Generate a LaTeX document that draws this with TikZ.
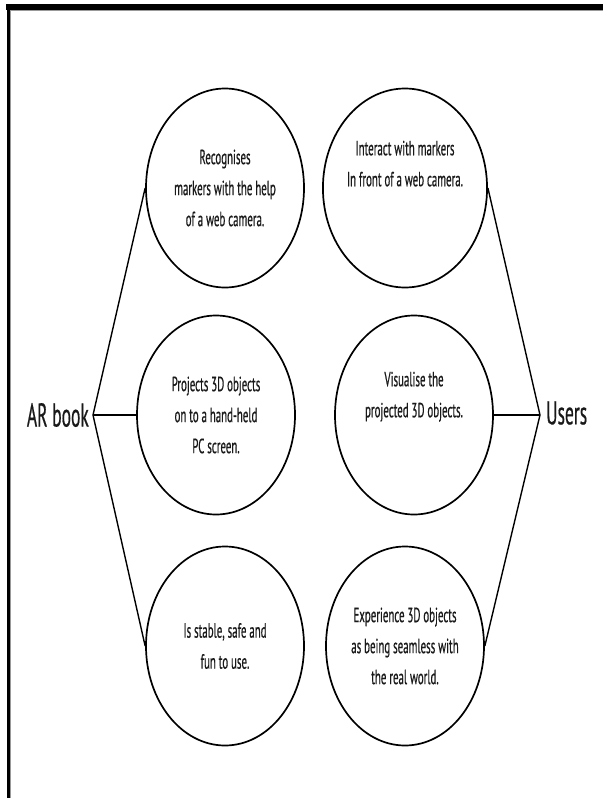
\documentclass[tikz,border=0pt]{standalone}
\usepackage{fontspec}
\setmainfont{PT Sans}
\newfontfamily\cfont[FakeStretch=0.53,FakeBold=0.5]{PT Sans}
\usetikzlibrary{shapes.geometric}
\begin{document}
\begin{tikzpicture}[x=1pt,y=-1pt,
  bubble/.style={draw=black, line width=1.7pt, ellipse, inner sep=0pt,
    minimum width=158pt, minimum height=199pt, align=center,
    text=black!90, font=\cfont\fontsize{20.5}{31}\selectfont},
  bigtext/.style={inner sep=0pt, text=black!90, font=\cfont\fontsize{33}{33}\selectfont},
  spoke/.style={draw=black, line width=1.4pt},
  hub/.style={draw=black, line width=2.8pt}]
\useasboundingbox (0,0) rectangle (603,798);
% frame
\fill[black] (6,4) rectangle (603,10);
\fill[black] (7,4) rectangle (10,798);
\fill[black!40] (10,10) rectangle (11,798);
\fill[black!40] (10,10) rectangle (603,11);
% bubbles
\node[bubble] (tl) at (225,188) {Recognises\\markers with the help\\of a web camera.};
\node[bubble] (ml) at (216,415) {Projects 3D objects\\on to a hand-held\\PC screen.};
\node[bubble] (bl) at (225,646) {Is stable, safe and\\fun to use.};
\node[bubble] (tr) at (405,188) {Interact with markers\\In front of a web camera.\\[18pt]};
\node[bubble] (mr) at (414,415) {Visualise the\\projected 3D objects.\\[10pt]};
\node[bubble] (br) at (405,646) {Experience 3D objects\\as being seamless with\\the real world.};
% hubs
\node[bigtext, anchor=east] (ar) at (89,415) {AR book};
\node[bigtext, anchor=west] (us) at (546,413) {Users};
\coordinate (arv) at (93,415);
\coordinate (usv) at (540,415);
% connectors
\draw[spoke] (tl.west) -- (arv) -- (bl.west);
\draw[hub] (arv) -- (ml.west);
\draw[spoke] (tr.east) -- (usv) -- (br.east);
\draw[hub] (mr.east) -- (usv);
\end{tikzpicture}
\end{document}
